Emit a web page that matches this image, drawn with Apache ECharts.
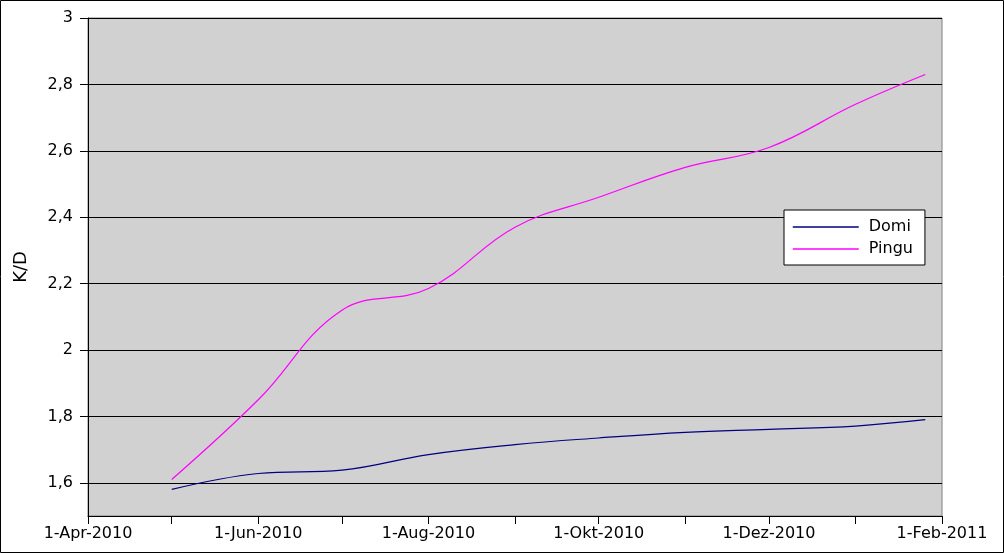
<!DOCTYPE html>
<html>
<head>
<meta charset="utf-8">
<script src="https://cdn.jsdelivr.net/npm/echarts@6/dist/echarts.min.js"></script>
<style>
html,body{margin:0;padding:0;background:#fff;}
#chart{width:1004px;height:553px;}
</style>
</head>
<body>
<div id="chart"></div>
<script>
// Data (dates as [year, monthIndex, day])
const dates = [[2010,4,1],[2010,5,1],[2010,6,1],[2010,7,1],[2010,8,1],[2010,9,1],[2010,10,1],[2010,11,1],[2011,0,1],[2011,0,26]];
const domi  = [1.58, 1.628, 1.638, 1.685, 1.715, 1.735, 1.752, 1.761, 1.771, 1.79];
const pingu = [1.61, 1.85, 2.12, 2.185, 2.37, 2.46, 2.55, 2.61, 2.74, 2.83];
const seriesNames = ['Domi', 'Pingu'];
const monthNames = ['Jan','Feb','Mär','Apr','Mai','Jun','Jul','Aug','Sep','Okt','Nov','Dez'];
const yAxisName = 'K/D';

const ts = dates.map(d => new Date(d[0], d[1], d[2]).getTime());
const xMin = new Date(2010, 3, 1).getTime();
const xMax = new Date(2011, 1, 1).getTime();
const DAY = 86400000;
const FONT = 'DejaVu Sans';

const chart = echarts.init(document.getElementById('chart'), null, {renderer: 'canvas'});
chart.setOption({
  backgroundColor: '#ffffff',
  animation: false,
  graphic: [{
    type: 'rect', silent: true, z: 100,
    shape: {x: 0.5, y: 0.5, width: 1003, height: 552},
    style: {fill: 'none', stroke: '#000', lineWidth: 1}
  }],
  grid: {
    left: 88, right: 62, top: 18, bottom: 37,
    show: true, backgroundColor: '#d1d1d1', borderColor: '#808080', borderWidth: 1
  },
  legend: {
    orient: 'vertical',
    left: 784, top: 210,
    backgroundColor: '#ffffff',
    borderColor: '#000', borderWidth: 1,
    padding: [9, 12, 8, 8],
    itemWidth: 66, itemHeight: 14, itemGap: 6,
    itemStyle: {opacity: 0},
    lineStyle: {width: 1.5},
    textStyle: {fontFamily: FONT, fontSize: 16, color: '#000', padding: [0, 0, 0, 5]},
    data: seriesNames
  },
  xAxis: {
    type: 'time',
    min: xMin, max: xMax,
    splitNumber: 10,
    minInterval: 28 * DAY,
    maxInterval: 31 * DAY,
    axisLine: {lineStyle: {color: '#000', width: 1}},
    axisTick: {show: true, length: 8, lineStyle: {color: '#000'}},
    splitLine: {show: false},
    axisLabel: {
      fontFamily: FONT, fontSize: 16, color: '#000', margin: 10,
      hideOverlap: false,
      formatter: function (v) {
        const d = new Date(v);
        const m = d.getMonth();
        if (m % 2 === 0) return '';
        return d.getDate() + '-' + monthNames[m] + '-' + d.getFullYear();
      }
    }
  },
  yAxis: {
    type: 'value',
    min: 1.5, max: 3,
    splitNumber: 7,
    name: yAxisName,
    nameLocation: 'middle',
    nameRotate: 90,
    nameGap: 58,
    nameTextStyle: {fontFamily: FONT, fontSize: 18, color: '#000'},
    axisLine: {show: true, lineStyle: {color: '#000', width: 1}},
    axisTick: {show: true, length: 8, lineStyle: {color: '#000'}},
    splitLine: {show: true, lineStyle: {color: '#000', width: 1}},
    axisLabel: {
      fontFamily: FONT, fontSize: 16, color: '#000', margin: 15,
      showMinLabel: false,
      formatter: function (v) {
        const r = Math.round(v * 10);
        if (r === 15) return '';
        return String(Math.round(v * 10) / 10).replace('.', ',');
      }
    }
  },
  series: [
    {
      name: seriesNames[0], type: 'line', smooth: 0.4, symbol: 'none',
      color: '#000080',
      lineStyle: {color: '#000080', width: 1.2},
      data: ts.map((t, i) => [t, domi[i]])
    },
    {
      name: seriesNames[1], type: 'line', smooth: 0.4, symbol: 'none',
      color: '#ff00ff',
      lineStyle: {color: '#ff00ff', width: 1.2},
      data: ts.map((t, i) => [t, pingu[i]])
    }
  ]
});
</script>
</body>
</html>
